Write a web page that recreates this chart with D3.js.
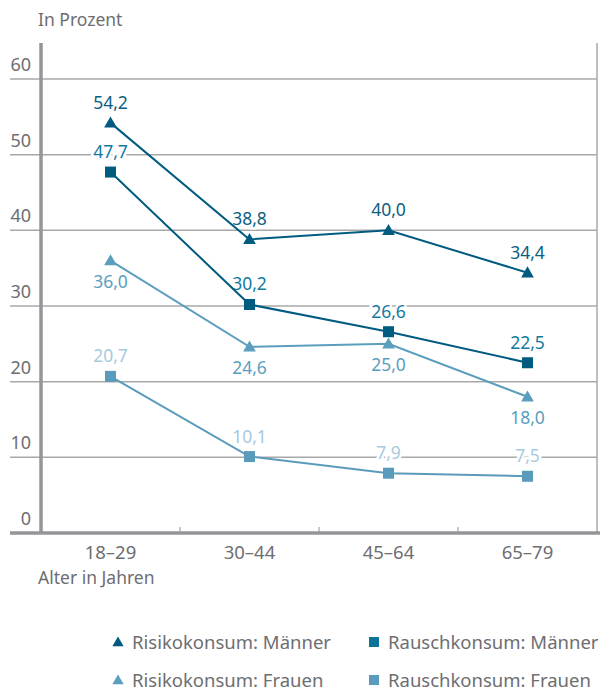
<!DOCTYPE html>
<html>
<head>
<meta charset="utf-8">
<script src="https://cdn.jsdelivr.net/npm/d3@7"></script>
<style>
  body { margin: 0; background: #fff; }
  svg text { font-family: "Noto Sans", "Open Sans", sans-serif; }
</style>
</head>
<body>
<svg id="chart" width="600" height="691"></svg>
<script>
// Daten
const ageGroups = ['18–29', '30–44', '45–64', '65–79']
const risikoMaenner = [54.2, 38.8, 40.0, 34.4]
const rauschMaenner = [47.7, 30.2, 26.6, 22.5]
const risikoFrauen = [36.0, 24.6, 25.0, 18.0]
const rauschFrauen = [20.7, 10.1, 7.9, 7.5]
const yTicks = [0, 10, 20, 30, 40, 50, 60]

const series = [
    { name: 'Risikokonsum: Männer', values: risikoMaenner, shape: 'triangle', color: '#005b80', labelColor: '#0d5e82', pos: 'above' },
    { name: 'Rauschkonsum: Männer', values: rauschMaenner, shape: 'square', color: '#005b80', labelColor: '#137aa2', legendColor: '#0c7399', pos: 'above' },
    { name: 'Risikokonsum: Frauen', values: risikoFrauen, shape: 'triangle', color: '#5b9ebd', labelColor: '#5b9ebd', pos: 'below' },
    { name: 'Rauschkonsum: Frauen', values: rauschFrauen, shape: 'square', color: '#5a9bbb', labelColor: '#a8cadf', pos: 'above' }
]

const gray = '#6d6e71'
const svg = d3.select('#chart')

const x = d3.scaleBand()
    .domain(ageGroups)
    .range([41, 597])
    .padding(0)

const y = d3.scaleLinear()
    .domain([0, 60])
    .range([533, 79])

const fmt = v => d3.format('.1f')(v).replace('.', ',')

// Gitternetz
svg.append('g')
    .selectAll('line')
    .data(yTicks.filter(d => d > 0))
    .enter()
    .append('line')
    .attr('x1', 10)
    .attr('x2', 597)
    .attr('y1', d => y(d))
    .attr('y2', d => y(d))
    .attr('stroke', '#a7a8aa')
    .attr('stroke-width', 1.5)

// rechter Rand
svg.append('line')
    .attr('x1', 597).attr('x2', 597)
    .attr('y1', 43).attr('y2', 533)
    .attr('stroke', '#a7a8aa')
    .attr('stroke-width', 1.5)

// Y-Beschriftung
svg.append('g')
    .selectAll('text')
    .data(yTicks)
    .enter()
    .append('text')
    .attr('x', 31)
    .attr('y', d => y(d) - 8)
    .attr('text-anchor', 'end')
    .attr('fill', gray)
    .style('font-size', '18px')
    .text(d => d)

// X-Ticks zwischen den Gruppen
svg.append('g')
    .selectAll('line')
    .data(ageGroups.slice(1))
    .enter()
    .append('line')
    .attr('x1', d => x(d))
    .attr('x2', d => x(d))
    .attr('y1', 527)
    .attr('y2', 533)
    .attr('stroke', '#939598')
    .attr('stroke-width', 1)

svg.append('g')
    .selectAll('text')
    .data(ageGroups)
    .enter()
    .append('text')
    .attr('x', d => x(d) + x.bandwidth() / 2)
    .attr('y', 559)
    .attr('text-anchor', 'middle')
    .attr('fill', gray)
    .style('font-size', '18.5px')
    .text(d => d)

// Achsen
svg.append('line')
    .attr('x1', 41).attr('x2', 41)
    .attr('y1', 43).attr('y2', 534)
    .attr('stroke', '#939598')
    .attr('stroke-width', 3.5)
svg.append('line')
    .attr('x1', 10).attr('x2', 600)
    .attr('y1', 533).attr('y2', 533)
    .attr('stroke', '#939598')
    .attr('stroke-width', 3.5)

svg.append('text')
    .attr('x', 38).attr('y', 26)
    .attr('fill', gray)
    .style('font-size', '17.5px')
    .text('In Prozent')

svg.append('text')
    .attr('x', 38).attr('y', 584)
    .attr('fill', gray)
    .style('font-size', '17.5px')
    .text('Alter in Jahren')

const cx = d => x(d) + x.bandwidth() / 2

// Werte-Beschriftungen (mit weißem Hintergrund, unter den Linien)
series.forEach(s => {
    svg.append('g')
        .selectAll('text')
        .data(s.values)
        .enter()
        .append('text')
        .attr('x', (d, i) => cx(ageGroups[i]))
        .attr('y', d => s.pos == 'above' ? y(d) - 14 : y(d) + 27)
        .attr('text-anchor', 'middle')
        .attr('fill', s.labelColor)
        .attr('stroke', '#fff')
        .attr('stroke-width', 5)
        .attr('paint-order', 'stroke')
        .style('font-size', '17.5px')
        .text(d => fmt(d))
})

const line = d3.line()
    .x((d, i) => cx(ageGroups[i]))
    .y(d => y(d))

function marker(g, shape, color, px, py, sz) {
    if (shape == 'triangle') {
        g.append('path')
            .attr('d', d3.symbol().type(d3.symbolTriangle).size(sz || 70)())
            .attr('transform', 'translate(' + px + ',' + (py + 1) + ')')
            .attr('fill', color)
    } else {
        const h = sz ? 5 : 5.5
        g.append('rect')
            .attr('x', px - h).attr('y', py - h)
            .attr('width', 2 * h).attr('height', 2 * h)
            .attr('fill', color)
    }
}

series.slice().reverse().forEach(s => {
    const g = svg.append('g')
    g.append('path')
        .datum(s.values)
        .attr('d', line)
        .attr('fill', 'none')
        .attr('stroke', s.color)
        .attr('stroke-width', 2)
    s.values.forEach((v, i) => marker(g, s.shape, s.color, cx(ageGroups[i]), y(v)))
})

// Legende
const legendPos = [[118, 643], [374, 643], [118, 681], [374, 681]]
series.forEach((s, i) => {
    const [lx, ly] = legendPos[i]
    const g = svg.append('g')
    marker(g, s.shape, s.legendColor || s.color, lx, ly - 1, 55)
    g.append('text')
        .attr('x', lx + 14)
        .attr('y', ly + 6)
        .attr('fill', gray)
        .style('font-size', '18.5px')
        .text(s.name)
})
</script>
</body>
</html>
